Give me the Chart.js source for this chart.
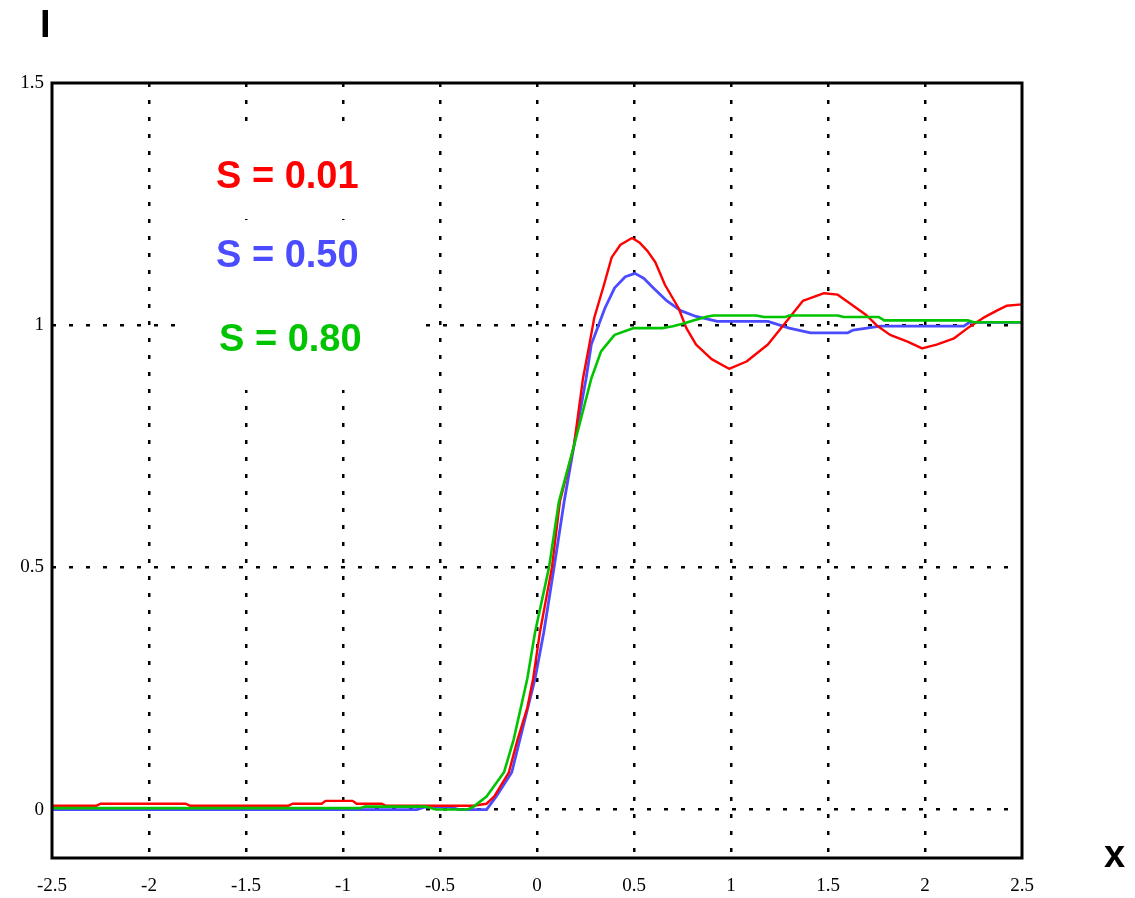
<!DOCTYPE html>
<html>
<head>
<meta charset="utf-8">
<script src="https://cdn.jsdelivr.net/npm/chart.js@4/dist/chart.umd.min.js"></script>
<style>
  html, body { margin: 0; padding: 0; background: #ffffff; }
  #wrap { width: 1135px; height: 898px; position: relative; }
</style>
</head>
<body>
<div id="wrap"><canvas id="c" width="1135" height="898"></canvas></div>
<script>
// ---- data ----
const xTickLabels = ['-2.5', '-2', '-1.5', '-1', '-0.5', '0', '0.5', '1', '1.5', '2', '2.5'];
const yTickLabels = ['0', '0.5', '1', '1.5'];
const seriesNames = ['S = 0.01', 'S = 0.50', 'S = 0.80'];

const xRed = [-2.5, -2.27, -2.25, -1.81, -1.79, -1.28, -1.26, -1.11, -1.09, -0.95, -0.93, -0.80, -0.78, -0.33, -0.26, -0.22, -0.145, -0.10, -0.05, -0.02, 0.015, 0.077, 0.118, 0.19, 0.237, 0.27, 0.295, 0.345, 0.385, 0.43, 0.49, 0.53, 0.57, 0.61, 0.66, 0.73, 0.77, 0.82, 0.90, 0.99, 1.08, 1.19, 1.27, 1.37, 1.48, 1.55, 1.63, 1.70, 1.75, 1.82, 1.91, 1.985, 2.06, 2.15, 2.22, 2.30, 2.37, 2.42, 2.5];
const yRed = [0.008, 0.008, 0.012, 0.012, 0.008, 0.008, 0.012, 0.012, 0.018, 0.018, 0.012, 0.012, 0.008, 0.008, 0.012, 0.027, 0.077, 0.145, 0.21, 0.27, 0.366, 0.5, 0.636, 0.75, 0.89, 0.96, 1.015, 1.083, 1.14, 1.166, 1.18, 1.17, 1.153, 1.13, 1.083, 1.035, 0.994, 0.96, 0.93, 0.91, 0.925, 0.96, 1.0, 1.05, 1.066, 1.063, 1.04, 1.02, 1.0, 0.98, 0.966, 0.952, 0.96, 0.973, 0.994, 1.015, 1.03, 1.04, 1.043];

const xBlue = [-2.5, -0.62, -0.58, -0.45, -0.40, -0.26, -0.21, -0.13, -0.088, -0.01, 0.035, 0.088, 0.14, 0.19, 0.253, 0.28, 0.35, 0.40, 0.455, 0.505, 0.55, 0.60, 0.67, 0.74, 0.82, 0.93, 1.19, 1.30, 1.41, 1.60, 1.63, 1.70, 1.77, 2.20, 2.23, 2.5];
const yBlue = [0.0, 0.0, 0.005, 0.005, 0.0, 0.0, 0.027, 0.077, 0.145, 0.27, 0.366, 0.5, 0.636, 0.75, 0.89, 0.96, 1.035, 1.077, 1.10, 1.107, 1.097, 1.077, 1.05, 1.03, 1.018, 1.008, 1.008, 0.994, 0.984, 0.984, 0.99, 0.994, 0.998, 0.998, 1.006, 1.006];

const xGreen = [-2.5, -0.91, -0.89, -0.57, -0.52, -0.36, -0.33, -0.26, -0.17, -0.12, -0.05, -0.01, 0.062, 0.113, 0.19, 0.28, 0.33, 0.40, 0.47, 0.50, 0.65, 0.70, 0.76, 0.81, 0.88, 0.91, 1.13, 1.17, 1.28, 1.30, 1.55, 1.58, 1.76, 1.79, 2.22, 2.25, 2.5];
const yGreen = [0.003, 0.003, 0.006, 0.006, 0.0, 0.0, 0.005, 0.027, 0.077, 0.145, 0.27, 0.366, 0.5, 0.636, 0.75, 0.89, 0.946, 0.98, 0.99, 0.994, 0.994, 0.998, 1.004, 1.01, 1.018, 1.02, 1.02, 1.017, 1.017, 1.02, 1.02, 1.017, 1.017, 1.01, 1.01, 1.006, 1.006];

const toPoints = (xs, ys) => xs.map((x, i) => ({ x: x, y: ys[i] }));

// ---- styling ----
const RED = '#ff0000', BLUE = '#4b4bff', GREEN = '#00c400';
const serif = "'Liberation Serif', 'Times New Roman', serif";
const sans = "'Liberation Sans', Arial, Helvetica, sans-serif";

const decor = {
  id: 'decor',
  beforeDatasetsDraw(chart) {
    // white backing behind the in-plot labels (hides the grid there)
    const ctx = chart.ctx;
    ctx.save();
    ctx.fillStyle = '#ffffff';
    ctx.fillRect(200, 133, 180, 84);
    ctx.fillRect(200, 220, 180, 79);
    ctx.fillRect(175, 302, 245, 88);
    ctx.restore();
  },
  afterDatasetsDraw(chart) {
    const ctx = chart.ctx;
    const a = chart.chartArea;
    ctx.save();
    // frame
    ctx.strokeStyle = '#000000';
    ctx.lineWidth = 3;
    ctx.setLineDash([]);
    ctx.strokeRect(a.left, a.top, a.right - a.left, a.bottom - a.top);
    // series labels
    ctx.font = 'bold 38px ' + sans;
    ctx.textBaseline = 'middle';
    ctx.textAlign = 'left';
    ctx.fillStyle = RED;   ctx.fillText(seriesNames[0], 216, 178);
    ctx.fillStyle = BLUE;  ctx.fillText(seriesNames[1], 216, 257);
    ctx.fillStyle = GREEN; ctx.fillText(seriesNames[2], 219, 341);
    // axis titles
    ctx.fillStyle = '#000000';
    ctx.textBaseline = 'alphabetic';
    ctx.fillText('I', 40, 37);
    ctx.fillText('x', 1104, 867);
    ctx.restore();
  }
};

const gridColor = (edgeVals) => (c) =>
  (c.tick && edgeVals.includes(c.tick.value)) ? 'rgba(0,0,0,0)' : '#000000';

new Chart(document.getElementById('c'), {
  type: 'line',
  data: {
    datasets: [
      { label: seriesNames[2], data: toPoints(xGreen, yGreen), borderColor: GREEN, borderWidth: 2.6 },
      { label: seriesNames[0], data: toPoints(xRed, yRed), borderColor: RED, borderWidth: 2.4 },
      { label: seriesNames[1], data: toPoints(xBlue, yBlue), borderColor: BLUE, borderWidth: 2.8 }
    ]
  },
  options: {
    responsive: false,
    animation: false,
    elements: { point: { radius: 0 }, line: { tension: 0, borderCapStyle: 'round', borderJoinStyle: 'round' } },
    layout: { padding: { top: 83, right: 113, left: 0, bottom: 0 } },
    plugins: { legend: { display: false }, tooltip: { enabled: false } },
    scales: {
      x: {
        type: 'linear',
        min: -2.5, max: 2.5,
        afterFit(s) { s.height = 40; },
        afterBuildTicks(s) { s.ticks = xTickLabels.map(v => ({ value: parseFloat(v) })); },
        ticks: {
          padding: 17,
          autoSkip: false,
          maxRotation: 0,
          color: '#000000',
          font: { family: serif, size: 19 },
          callback: (v) => String(v)
        },
        grid: { color: gridColor([-2.5, 2.5]), lineWidth: 2.5, drawTicks: false },
        border: { display: false, dash: [4, 13] }
      },
      y: {
        type: 'linear',
        min: -0.1, max: 1.5,
        afterFit(s) { s.width = 52; },
        afterBuildTicks(s) { s.ticks = yTickLabels.map(v => ({ value: parseFloat(v) })); },
        ticks: {
          padding: 8,
          autoSkip: false,
          color: '#000000',
          font: { family: serif, size: 19 },
          callback: (v) => String(v)
        },
        grid: { color: gridColor([1.5]), lineWidth: 2.5, drawTicks: false },
        border: { display: false, dash: [4, 13] }
      }
    }
  },
  plugins: [decor]
});
</script>
</body>
</html>
